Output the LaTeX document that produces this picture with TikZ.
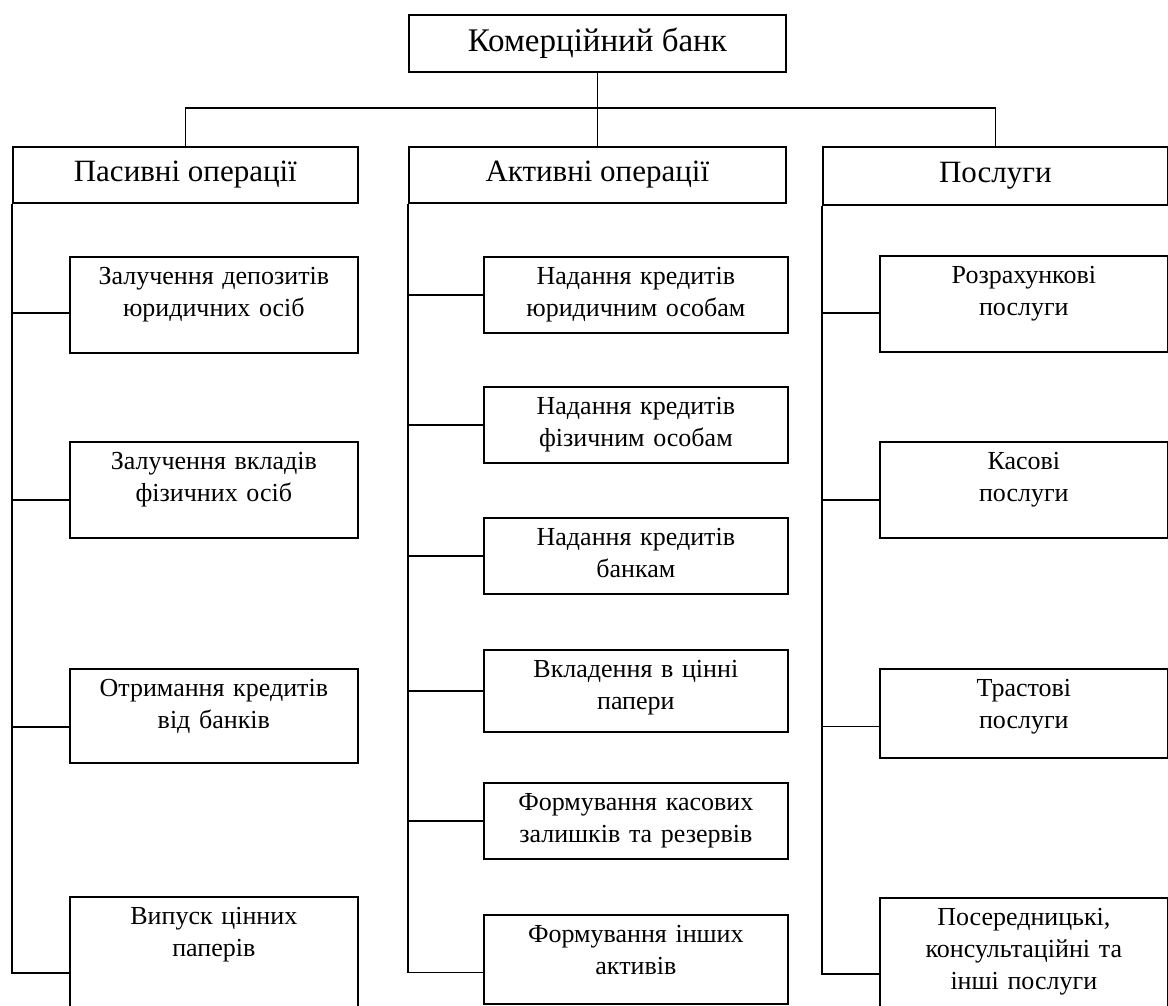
\documentclass[tikz,border=0pt]{standalone}
\usepackage{fontspec}
\setmainfont{Liberation Serif}

\begin{document}
\begin{tikzpicture}
	[ x=1pt, y=-1pt, line width=1.7pt,
		bankbox/.style={rectangle,draw,anchor=north west,minimum width=377pt,minimum height=57pt,font=\fontsize{33}{38}\selectfont},
		groupbox/.style={rectangle,draw,anchor=north west,minimum height=56pt,font=\fontsize{31}{36}\selectfont},
		itembox/.style={rectangle,draw,anchor=north west,inner sep=0pt,align=center,text height=28pt,font=\fontsize{26}{32}\selectfont},
		sidebox/.style={itembox,text width=288pt,text depth=68pt},
		midbox/.style={itembox,text width=304pt,text depth=48pt}]

	\useasboundingbox (0,0) rectangle (1168,1005);
	\clip (0,0) rectangle (1168,1005);

	\node[bankbox] (bank) at (408,14) {Комерційний банк};

	\node[groupbox,minimum width=345pt] (passive)  at (12,146)  {Пасивні операції};
	\node[groupbox,minimum width=377pt] (active)   at (408,146) {Активні операції};
	\node[groupbox,minimum width=345pt,minimum height=58pt] (services) at (822,146) {Послуги};

	% passive side
	\node[sidebox] (legal dep)   at (69,256) {Залучення депозитів\\юридичних осіб};
	\node[sidebox] (private dep) at (69,441) {Залучення вкладів\\фізичних осіб};
	\node[sidebox,text depth=66pt] (bank loans) at (69,668) {Отримання кредитів\\від банків};
	\node[sidebox,text depth=124pt] (own papers) at (69,896) {Випуск цінних\\паперів};

	% active side
	\node[midbox] (legal credit)   at (483,256) {Надання кредитів\\юридичним особам};
	\node[midbox] (private credit) at (483,386) {Надання кредитів\\фізичним особам};
	\node[midbox] (bank credit)    at (483,517) {Надання кредитів\\банкам};
	\node[midbox,text depth=54pt] (securities) at (483,649) {Вкладення в цінні\\папери};
	\node[midbox] (cash reserves)  at (483,782) {Формування касових\\залишків та резервів};
	\node[midbox,text depth=61pt] (other assets) at (483,914) {Формування інших\\активів};

	% services side
	\node[sidebox] (settlement) at (879,255) {Розрахункові\\послуги};
	\node[sidebox] (cash serv)  at (879,441) {Касові\\послуги};
	\node[sidebox,text depth=61pt] (trust serv) at (879,668) {Трастові\\послуги};
	\node[sidebox,text depth=124pt] (broker serv) at (879,897) {Посередницькі,\\консультаційні та\\інші послуги};

	\coordinate (fork) at (597,108);
	\draw (bank) -- (active);
	\draw (passive.north) |- (fork) -| (services.north);

	\draw (passive.south west) |- ([yshift=-8pt] legal dep.west);
	\draw (passive.south west) |- ([yshift=-10pt] private dep.west);
	\draw (passive.south west) |- ([yshift=-11pt] bank loans.west);
	\draw (passive.south west) |- (own papers.west);

	\draw (active.south west) |- (legal credit.west);
	\draw (active.south west) |- (private credit.west);
	\draw (active.south west) |- (bank credit.west);
	\draw (active.south west) |- (securities.west);
	\draw (active.south west) |- (cash reserves.west);
	\draw (active.south west) |- ([yshift=-13pt] other assets.west);

	\draw (services.south west) |- ([yshift=-9pt] settlement.west);
	\draw (services.south west) |- ([yshift=-10pt] cash serv.west);
	\draw (services.south west) |- ([yshift=-13pt] trust serv.west);
	\draw (services.south west) |- (broker serv.west);
\end{tikzpicture}
\end{document}
